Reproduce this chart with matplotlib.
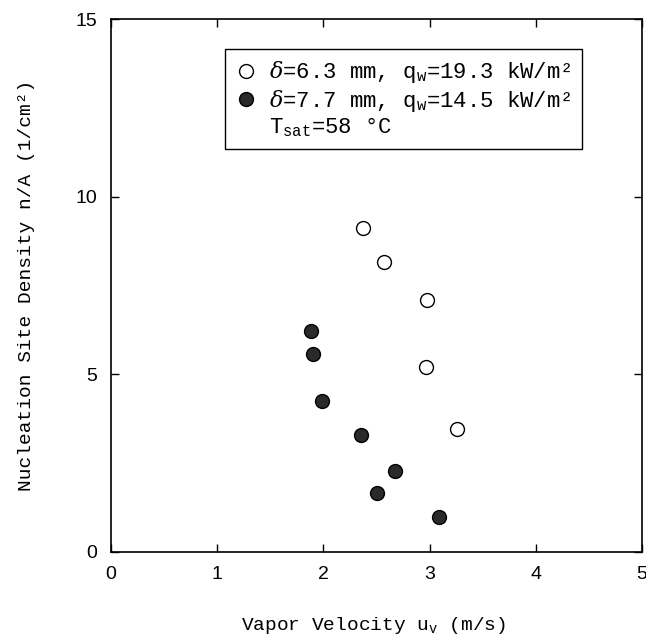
import matplotlib
matplotlib.use('Agg')
import matplotlib.pyplot as plt
from matplotlib.lines import Line2D
from matplotlib.font_manager import FontProperties

# ---- data ----
u_open = [2.37, 2.57, 2.98, 2.97, 3.26]
n_open = [9.13, 8.15, 7.09, 5.20, 3.47]
u_filled = [1.88, 1.90, 1.99, 2.35, 2.67, 2.50, 3.09]
n_filled = [6.21, 5.56, 4.25, 3.29, 2.29, 1.65, 0.98]
x_ticks = [0, 1, 2, 3, 4, 5]
y_ticks = [0, 5, 10, 15]
label_open = r'$\delta$=6.3 mm, q$_{\rm w}$=19.3 kW/m²'
label_filled = r'$\delta$=7.7 mm, q$_{\rm w}$=14.5 kW/m²'
label_tsat = r'T$_{\rm sat}$=58 °C'
xlabel = r'Vapor Velocity u$_{\rm v}$ (m/s)'
ylabel = 'Nucleation Site Density n/A (1/cm²)'

MONO = 'Liberation Mono'
plt.rcParams['mathtext.fontset'] = 'custom'
plt.rcParams['mathtext.rm'] = MONO
plt.rcParams['mathtext.it'] = 'DejaVu Serif:italic'
plt.rcParams['mathtext.bf'] = MONO + ':bold'

W, H = 646, 644
fig = plt.figure(figsize=(W / 100, H / 100), dpi=100)
ax = fig.add_axes([111 / W, 1 - 552 / H, 531 / W, 533 / H])

ax.plot(u_open, n_open, linestyle='none', marker='o', markersize=10,
        markerfacecolor='white', markeredgecolor='black', markeredgewidth=1.0)
ax.plot(u_filled, n_filled, linestyle='none', marker='o', markersize=10,
        markerfacecolor='#2a2a2a', markeredgecolor='black', markeredgewidth=1.0)

ax.set_xlim(0, 5)
ax.set_ylim(0, 15)
ax.set_xticks(x_ticks)
ax.set_yticks(y_ticks)
ax.set_xticklabels([str(t) for t in x_ticks], fontfamily='Liberation Sans', fontsize=14)
ax.set_yticklabels([str(t) for t in y_ticks], fontfamily='Liberation Sans', fontsize=14)
ax.tick_params(direction='in', length=6, width=1, top=True, right=True, pad=10)
for s in ax.spines.values():
    s.set_linewidth(1.2)

lab_font = FontProperties(family=MONO, size=14)
ax.set_xlabel(xlabel, fontproperties=lab_font)
ax.set_ylabel(ylabel, fontproperties=lab_font)
ax.xaxis.set_label_coords(0.494, -0.118)
ax.yaxis.set_label_coords(-0.143, 0.5)

handles = [
    Line2D([], [], linestyle='none', marker='o', markersize=10,
           markerfacecolor='white', markeredgecolor='black', markeredgewidth=1.0),
    Line2D([], [], linestyle='none', marker='o', markersize=10,
           markerfacecolor='#2a2a2a', markeredgecolor='black', markeredgewidth=1.0),
    Line2D([], [], linestyle='none'),
]
leg = ax.legend(handles, [label_open, label_filled, label_tsat],
                loc='upper left', bbox_to_anchor=(0.214, 0.943),
                frameon=True, fancybox=False, edgecolor='black', framealpha=1,
                prop=FontProperties(family=MONO, size=16),
                handlelength=1.0, handletextpad=0.55, borderpad=0.45,
                labelspacing=0.1, borderaxespad=0)
leg.get_frame().set_linewidth(1.0)

fig.savefig('out.png', dpi=100)
